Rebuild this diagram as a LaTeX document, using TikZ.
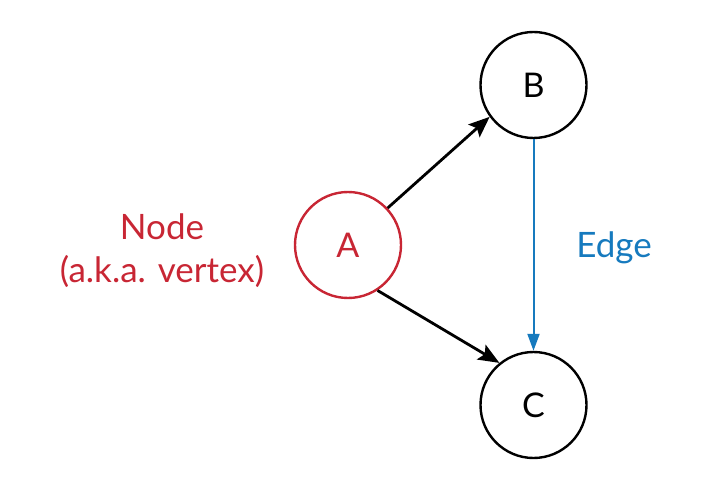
\documentclass[tikz,border=0pt]{standalone}
\usepackage{fontspec}
\setmainfont{Lato}
\usetikzlibrary{arrows.meta}
\definecolor{nodered}{RGB}{200,38,52}
\definecolor{edgeblue}{RGB}{22,122,190}
\begin{document}
\begin{tikzpicture}[x=1pt,y=-1pt,
  vert/.style={circle,draw,line width=2.4pt,minimum size=106pt,inner sep=0pt,font=\fontsize{34}{38}\selectfont},
  arr/.style={-{Stealth[length=21pt,width=17pt,inset=4pt]},line width=2.8pt},
  lbl/.style={font=\fontsize{35}{40}\selectfont,anchor=base}]
\useasboundingbox (0,0) rectangle (709,478);
\node[vert,draw=nodered,text=nodered] (A) at (348,245) {A};
\node[vert] (B) at (533.5,85) {B};
\node[vert] (C) at (533.5,405) {C};
\draw[arr] (A.43.5) -- (B.216);
\draw[arr] (A.-57) -- (C.129);
\draw[draw=edgeblue,line width=2pt,-{Triangle[length=17pt,width=12pt]},edgeblue] (B) -- (C);
\node[lbl,text=nodered] (lab1) at (162,240) {Node};
\node[lbl,text=nodered] (lab2) at (162,282) {(a.k.a. vertex)};
\node[lbl,text=edgeblue] (edge) at (614,258) {Edge};
\end{tikzpicture}
\end{document}
